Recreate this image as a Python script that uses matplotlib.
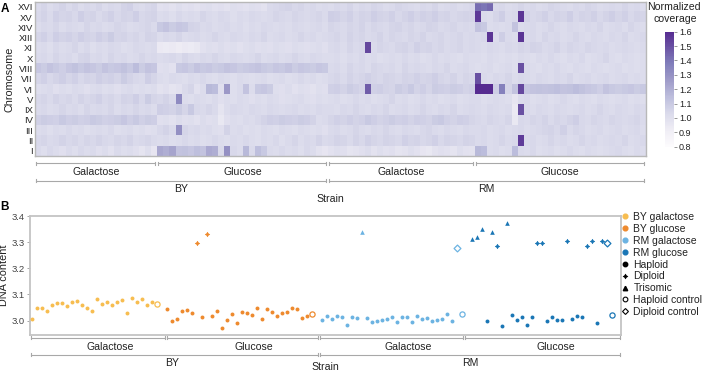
import numpy as np
import matplotlib
matplotlib.use("Agg")
import matplotlib.pyplot as plt
from matplotlib import transforms
from matplotlib.lines import Line2D
from matplotlib.colors import LinearSegmentedColormap

plt.rcParams["font.family"] = ["Liberation Sans", "DejaVu Sans"]

# ---------------- panel A data: normalized coverage, rows top -> bottom
chromosomes = ["XVI", "XV", "XIV", "XIII", "XI", "X", "VIII", "VII", "VI",
               "V", "IX", "IV", "III", "II", "I"]

by_gal_cov = [
    [1.03, 1.05, 1.02, 1.04, 1.06, 1.03, 1.05, 1.02, 1.04, 1.03, 1.05, 1.02, 1.04, 1.03, 1.06, 1.07, 1.03, 1.02, 1.04, 1.05],
    [1.04, 1.06, 1.03, 1.07, 1.05, 1.06, 1.04, 1.08, 1.05, 1.06, 1.03, 1.05, 1.07, 1.04, 1.06, 1.05, 1.08, 1.04, 1.05, 1.06],
    [1.02, 1.04, 1.03, 1.05, 1.02, 1.04, 1.03, 1.02, 1.05, 1.03, 1.04, 1.02, 1.03, 1.05, 1.04, 1.02, 1.03, 1.04, 1.05, 1.03],
    [1.05, 1.07, 1.04, 1.08, 1.06, 1.07, 1.05, 1.08, 1.06, 1.05, 1.08, 1.06, 1.09, 1.05, 1.06, 1.04, 1.05, 1.03, 1.06, 1.05],
    [1.02, 1.03, 1.01, 1.04, 1.02, 1.03, 1.05, 1.02, 1.04, 1.01, 1.03, 1.02, 1.04, 1.03, 1.01, 1.02, 1.04, 1.03, 1.02, 1.03],
    [1.03, 1.04, 1.02, 1.05, 1.03, 1.04, 1.02, 1.05, 1.06, 1.03, 1.04, 1.02, 1.05, 1.03, 1.04, 1.02, 1.03, 1.05, 1.03, 1.04],
    [1.11, 1.09, 1.12, 1.10, 1.08, 1.11, 1.13, 1.10, 1.12, 1.11, 1.09, 1.12, 1.10, 1.11, 1.13, 1.10, 1.15, 1.09, 1.12, 1.11],
    [1.05, 1.07, 1.04, 1.06, 1.08, 1.05, 1.07, 1.04, 1.06, 1.05, 1.08, 1.06, 1.07, 1.05, 1.09, 1.06, 1.04, 1.03, 1.08, 1.05],
    [1.01, 1.02, 1.03, 1.00, 1.02, 1.01, 1.03, 1.02, 1.00, 1.02, 1.03, 1.01, 1.02, 1.00, 1.02, 1.03, 1.01, 1.02, 1.01, 1.02],
    [1.04, 1.05, 1.03, 1.06, 1.04, 1.05, 1.03, 1.06, 1.04, 1.05, 1.07, 1.04, 1.05, 1.03, 1.06, 1.05, 1.08, 1.04, 1.09, 1.05],
    [1.03, 1.04, 1.02, 1.03, 1.05, 1.03, 1.04, 1.02, 1.05, 1.03, 1.04, 1.03, 1.05, 1.02, 1.04, 1.03, 1.05, 1.03, 1.04, 1.02],
    [1.07, 1.09, 1.08, 1.07, 1.10, 1.08, 1.09, 1.07, 1.08, 1.10, 1.09, 1.07, 1.08, 1.09, 1.11, 1.08, 1.10, 1.07, 1.09, 1.08],
    [1.02, 1.03, 1.01, 1.03, 1.02, 1.04, 1.02, 1.03, 1.01, 1.02, 1.03, 1.02, 1.04, 1.01, 1.02, 1.03, 1.01, 1.02, 1.00, 1.01],
    [1.04, 1.05, 1.03, 1.04, 1.06, 1.04, 1.05, 1.03, 1.05, 1.04, 1.06, 1.04, 1.03, 1.05, 1.04, 1.06, 1.03, 1.04, 1.05, 1.03],
    [1.03, 1.01, 1.04, 1.02, 1.00, 1.03, 1.01, 1.04, 1.02, 1.03, 1.00, 1.02, 0.99, 1.03, 1.01, 1.02, 1.00, 0.97, 1.01, 0.96],
]

by_glu_cov = [
    [0.99, 1.00, 0.98, 1.01, 0.99, 1.00, 0.98, 1.00, 1.01, 0.99, 1.00, 0.98, 1.01, 1.00, 0.99, 1.01, 1.00, 0.98, 1.03, 1.04, 1.05, 1.06, 1.04, 1.05, 1.03, 1.04, 1.02, 1.03],
    [1.02, 1.03, 1.01, 1.04, 1.02, 1.03, 1.02, 1.05, 1.03, 1.02, 1.04, 1.03, 1.01, 1.03, 1.02, 1.04, 1.03, 1.02, 1.03, 1.05, 1.04, 1.03, 1.05, 1.04, 1.03, 1.04, 1.05, 1.03],
    [1.10, 1.12, 1.09, 1.11, 1.10, 1.06, 1.05, 1.03, 1.04, 1.02, 1.03, 1.04, 1.02, 1.03, 1.01, 1.03, 1.02, 1.04, 1.03, 1.02, 1.03, 1.02, 1.04, 1.03, 1.02, 1.03, 1.04, 1.02],
    [1.02, 1.04, 1.03, 1.05, 1.02, 1.03, 1.04, 1.02, 1.03, 1.05, 1.03, 1.02, 1.04, 1.03, 1.02, 1.04, 1.03, 1.05, 1.02, 1.03, 1.04, 1.02, 1.03, 1.05, 1.03, 1.04, 1.02, 1.03],
    [0.94, 0.93, 0.94, 0.92, 0.94, 0.93, 0.95, 0.99, 1.01, 1.00, 1.02, 1.00, 1.01, 0.99, 1.01, 1.02, 1.00, 1.01, 1.00, 1.02, 1.01, 1.00, 1.02, 1.01, 1.00, 1.01, 1.02, 1.00],
    [1.02, 1.03, 1.04, 1.02, 1.05, 1.03, 1.02, 1.04, 1.03, 1.05, 1.03, 1.02, 1.04, 1.03, 1.02, 1.03, 1.05, 1.02, 1.03, 1.04, 1.02, 1.03, 1.05, 1.03, 1.02, 1.04, 1.03, 1.02],
    [1.00, 1.01, 0.99, 1.10, 1.11, 1.09, 1.12, 1.10, 1.11, 1.09, 1.10, 1.12, 1.11, 1.09, 1.10, 1.11, 1.12, 1.10, 1.09, 1.11, 1.10, 1.12, 1.09, 1.11, 1.10, 1.09, 1.11, 1.10],
    [1.02, 1.01, 1.03, 1.02, 1.01, 1.03, 1.02, 1.04, 1.02, 1.01, 1.03, 1.02, 1.01, 1.03, 1.02, 1.01, 1.02, 1.03, 1.01, 1.02, 1.03, 1.01, 1.02, 1.04, 1.02, 1.03, 1.01, 1.02],
    [0.98, 1.00, 0.97, 0.99, 1.03, 1.05, 0.99, 1.02, 1.16, 1.15, 1.00, 1.27, 1.01, 1.03, 1.12, 1.02, 1.10, 1.11, 1.09, 1.01, 1.00, 1.02, 0.99, 1.01, 1.00, 0.98, 1.01, 1.00],
    [1.04, 1.06, 1.03, 1.32, 1.02, 1.01, 1.03, 1.02, 1.01, 1.03, 1.00, 1.02, 1.01, 1.03, 1.02, 1.00, 1.02, 1.01, 1.03, 1.02, 1.00, 1.01, 1.02, 1.03, 1.01, 1.00, 1.02, 1.01],
    [1.08, 1.07, 1.06, 1.09, 1.05, 1.10, 1.04, 1.03, 1.05, 1.03, 0.97, 1.02, 1.04, 1.03, 1.02, 1.04, 1.03, 1.02, 1.04, 1.03, 1.02, 1.03, 1.04, 1.02, 1.03, 1.02, 1.04, 1.03],
    [1.00, 1.01, 0.99, 1.02, 1.00, 1.01, 0.99, 1.02, 1.00, 1.01, 0.95, 1.00, 1.02, 1.01, 1.03, 1.02, 1.04, 1.06, 1.08, 1.07, 1.09, 1.08, 1.07, 1.09, 1.08, 1.06, 1.02, 1.03],
    [1.04, 1.06, 1.03, 1.30, 1.05, 1.03, 1.04, 1.02, 1.03, 1.01, 1.00, 1.06, 1.02, 1.03, 1.01, 1.02, 1.01, 1.03, 1.02, 1.01, 1.03, 1.02, 1.01, 1.03, 1.02, 1.01, 1.02, 1.00],
    [1.02, 1.03, 1.01, 1.02, 1.04, 1.02, 1.03, 1.01, 1.02, 1.04, 1.02, 1.01, 1.03, 1.02, 1.04, 1.02, 1.01, 1.03, 1.02, 1.04, 1.01, 1.03, 1.05, 1.02, 1.04, 1.03, 1.06, 1.03],
    [1.22, 1.20, 1.23, 1.12, 1.13, 1.11, 1.14, 1.12, 1.21, 1.20, 1.03, 1.30, 1.04, 1.02, 1.16, 1.03, 1.14, 1.10, 1.03, 1.02, 1.04, 1.02, 1.03, 1.01, 1.04, 1.02, 0.98, 0.96],
]

rm_gal_cov = [
    [1.02, 1.04, 1.03, 1.05, 1.02, 1.04, 1.03, 1.05, 1.04, 1.02, 1.03, 1.05, 1.04, 1.03, 1.02, 1.04, 1.03, 1.05, 1.02, 1.03, 1.04, 1.02, 1.03, 1.04],
    [1.08, 1.07, 1.05, 1.07, 1.04, 1.06, 1.05, 1.08, 1.06, 1.05, 1.07, 1.04, 1.06, 1.08, 1.05, 1.07, 1.06, 1.08, 1.05, 1.06, 1.04, 1.05, 1.06, 1.05],
    [1.05, 1.04, 1.03, 1.05, 1.04, 1.06, 1.03, 1.05, 1.04, 1.03, 1.05, 1.06, 1.04, 1.05, 1.03, 1.04, 1.06, 1.05, 1.03, 1.04, 1.05, 1.03, 1.04, 1.03],
    [1.04, 1.05, 1.03, 1.06, 1.04, 1.05, 1.03, 1.04, 1.06, 1.03, 1.05, 1.04, 1.03, 1.05, 1.04, 1.06, 1.03, 1.04, 1.05, 1.03, 1.04, 1.05, 1.03, 1.04],
    [1.03, 1.04, 1.02, 1.05, 1.03, 1.04, 1.52, 1.03, 1.05, 1.04, 1.03, 1.05, 1.06, 1.04, 1.07, 1.05, 1.06, 1.04, 1.05, 1.03, 1.04, 1.05, 1.03, 1.04],
    [1.02, 1.03, 1.01, 1.03, 1.02, 1.04, 1.02, 1.03, 1.01, 1.02, 1.03, 1.02, 1.04, 1.02, 1.03, 1.01, 1.02, 1.04, 1.02, 1.03, 1.02, 1.01, 1.03, 1.02],
    [1.03, 1.04, 1.02, 1.05, 1.03, 1.04, 1.02, 1.05, 1.04, 1.03, 1.04, 1.02, 1.05, 1.03, 1.04, 1.03, 1.02, 1.04, 1.03, 1.05, 1.02, 1.03, 1.04, 1.02],
    [1.04, 1.05, 1.03, 1.06, 1.04, 1.05, 1.07, 1.05, 1.04, 1.06, 1.05, 1.04, 1.06, 1.05, 1.07, 1.05, 1.06, 1.08, 1.05, 1.04, 1.06, 1.03, 1.05, 1.04],
    [1.07, 1.08, 1.06, 1.09, 1.07, 1.05, 1.46, 1.07, 1.08, 1.06, 1.05, 1.09, 1.07, 1.10, 1.06, 1.08, 1.05, 1.09, 1.08, 1.07, 1.09, 1.08, 1.06, 1.07],
    [1.02, 1.03, 1.01, 1.02, 1.04, 1.02, 1.03, 1.01, 1.02, 1.03, 1.05, 1.02, 1.03, 1.01, 1.02, 1.04, 1.02, 1.03, 1.01, 1.02, 1.03, 1.01, 1.02, 1.03],
    [1.03, 1.02, 1.04, 1.03, 1.05, 1.03, 1.02, 1.04, 1.03, 1.05, 1.02, 1.03, 1.04, 1.02, 1.03, 1.05, 1.03, 1.02, 1.04, 1.03, 1.05, 1.02, 1.03, 1.04],
    [1.05, 1.07, 1.06, 1.08, 1.06, 1.07, 1.10, 1.08, 1.06, 1.07, 1.09, 1.07, 1.08, 1.06, 1.08, 1.07, 1.06, 1.09, 1.10, 1.07, 1.06, 1.08, 1.07, 1.05],
    [1.03, 1.04, 1.02, 1.03, 1.05, 1.03, 1.02, 1.04, 1.03, 1.05, 1.03, 1.02, 1.04, 1.03, 1.02, 1.04, 1.05, 1.03, 1.02, 1.04, 1.03, 1.02, 1.04, 1.03],
    [1.04, 1.06, 1.05, 1.03, 1.06, 1.04, 1.07, 1.05, 1.04, 1.06, 1.05, 1.04, 1.07, 1.05, 1.06, 1.04, 1.05, 1.07, 1.04, 1.06, 1.05, 1.04, 1.06, 1.05],
    [0.99, 1.01, 1.00, 0.97, 0.98, 1.00, 1.02, 0.98, 1.01, 0.99, 1.00, 0.97, 0.98, 1.01, 0.99, 0.96, 0.95, 0.98, 1.00, 0.99, 0.97, 1.01, 0.99, 0.98],
]

rm_glu_cov = [
    [1.42, 1.40, 1.43, 1.03, 1.04, 1.02, 1.03, 1.05, 1.03, 1.04, 1.02, 1.03, 1.05, 1.04, 1.03, 1.02, 1.04, 1.03, 1.05, 1.04, 1.02, 1.03, 1.04, 1.03, 1.05, 1.03, 1.04, 1.02],
    [1.56, 1.03, 1.02, 1.05, 1.08, 1.03, 1.04, 1.57, 1.06, 1.04, 1.05, 1.07, 1.04, 1.06, 1.05, 1.08, 1.04, 1.06, 1.05, 1.07, 1.04, 1.06, 1.08, 1.05, 1.07, 1.04, 1.06, 1.05],
    [1.12, 1.10, 1.02, 1.03, 1.02, 1.03, 1.12, 1.02, 1.03, 1.04, 1.02, 1.03, 1.05, 1.03, 1.02, 1.04, 1.03, 1.02, 1.04, 1.03, 1.05, 1.02, 1.03, 1.04, 1.02, 1.05, 1.03, 1.02],
    [1.03, 1.04, 1.57, 1.02, 1.08, 1.03, 1.02, 1.57, 1.03, 1.04, 1.02, 1.05, 1.03, 1.04, 1.02, 1.03, 1.05, 1.03, 1.02, 1.04, 1.03, 1.02, 1.04, 1.03, 1.05, 1.02, 1.03, 1.04],
    [1.03, 1.02, 1.04, 1.03, 1.02, 1.04, 1.03, 1.05, 1.04, 1.06, 1.05, 1.03, 1.04, 1.06, 1.03, 1.05, 1.04, 1.03, 1.05, 1.04, 1.03, 1.04, 1.02, 1.03, 1.04, 1.03, 1.02, 1.03],
    [1.02, 1.01, 1.03, 1.02, 1.01, 1.02, 1.01, 1.03, 1.02, 1.01, 1.03, 1.02, 1.04, 1.02, 1.01, 1.03, 1.02, 1.04, 1.01, 1.02, 1.03, 1.05, 1.02, 1.01, 1.03, 1.02, 1.01, 1.02],
    [1.01, 1.02, 1.03, 1.01, 1.02, 1.03, 1.01, 1.50, 1.03, 1.02, 1.01, 1.03, 1.02, 1.04, 1.02, 1.01, 1.03, 1.02, 1.01, 1.03, 1.02, 1.01, 1.02, 1.03, 1.01, 1.02, 1.01, 1.02],
    [1.50, 1.03, 1.02, 1.04, 1.03, 1.05, 1.02, 1.04, 1.03, 1.02, 1.04, 1.03, 1.02, 1.04, 1.03, 1.05, 1.02, 1.03, 1.04, 1.02, 1.03, 1.04, 1.02, 1.03, 1.04, 1.02, 1.03, 1.02],
    [1.60, 1.62, 1.61, 1.08, 1.36, 1.05, 1.12, 1.52, 1.11, 1.12, 1.13, 1.12, 1.13, 1.14, 1.12, 1.13, 1.15, 1.13, 1.11, 1.10, 1.08, 1.12, 1.10, 1.09, 1.10, 1.11, 1.09, 1.10],
    [1.03, 1.01, 1.02, 1.03, 1.02, 1.01, 0.96, 1.02, 1.03, 1.01, 1.02, 1.03, 1.01, 1.02, 1.04, 1.02, 1.01, 1.03, 1.02, 1.01, 1.03, 1.02, 1.01, 1.02, 1.03, 1.01, 1.02, 1.01],
    [1.03, 1.02, 1.04, 1.03, 1.02, 1.03, 0.94, 1.50, 1.03, 1.02, 1.04, 1.03, 1.02, 1.04, 1.03, 1.02, 1.03, 1.04, 1.02, 1.03, 1.05, 1.03, 1.02, 1.04, 1.03, 1.02, 1.04, 1.03],
    [1.04, 1.03, 1.05, 1.04, 1.03, 1.05, 0.95, 1.04, 1.03, 1.05, 1.04, 1.06, 1.03, 1.05, 1.04, 1.06, 1.08, 1.04, 1.03, 1.05, 1.04, 1.03, 1.05, 1.04, 1.03, 1.04, 1.05, 1.03],
    [1.03, 1.04, 1.02, 1.03, 1.04, 1.02, 1.03, 1.04, 1.02, 1.03, 1.04, 1.05, 1.06, 1.04, 1.07, 1.03, 1.05, 1.04, 1.02, 1.03, 1.04, 1.02, 1.03, 1.04, 1.02, 1.03, 1.04, 1.02],
    [1.03, 1.04, 1.02, 1.03, 1.05, 1.03, 1.04, 1.55, 1.03, 1.04, 1.02, 1.03, 1.05, 1.03, 1.04, 1.02, 1.03, 1.05, 1.03, 1.04, 1.02, 1.03, 1.04, 1.03, 1.05, 1.02, 1.03, 1.04],
    [1.16, 1.15, 1.02, 1.03, 1.01, 1.02, 1.15, 1.03, 1.02, 1.04, 1.01, 1.02, 1.03, 1.01, 1.02, 1.04, 1.02, 1.01, 1.03, 1.02, 1.01, 1.02, 1.03, 1.04, 1.02, 1.01, 1.03, 1.02],
]

cbar_ticks = [0.8, 0.9, 1.0, 1.1, 1.2, 1.3, 1.4, 1.5, 1.6]

# ---------------- panel B data: DNA content per sample
# kinds: h haploid, d diploid, t trisomic, hc haploid control, dc diploid control
by_gal_dna = [3.005, 3.047, 3.050, 3.037, 3.059, 3.068, 3.069, 3.056, 3.071, 3.074,
              3.058, 3.050, 3.038, 3.082, 3.064, 3.073, 3.058, 3.071, 3.080, 3.028,
              3.088, 3.072, 3.081, 3.058, 3.073, 3.064]
by_gal_kind = ["h"] * 25 + ["hc"]

by_glu_dna = [3.045, 2.999, 3.006, 3.038, 3.042, 3.028, 3.296, 3.014, 3.332, 3.019,
              3.037, 2.973, 3.003, 3.026, 2.992, 3.032, 3.030, 3.022, 3.047, 3.005,
              3.044, 3.032, 3.018, 3.030, 3.032, 3.050, 3.044, 3.010, 3.018, 3.026]
by_glu_kind = ["h"] * 6 + ["d", "h", "d"] + ["h"] * 20 + ["hc"]

rm_gal_dna = [3.004, 3.019, 3.005, 3.017, 3.015, 2.985, 3.013, 3.009, 3.338, 3.009,
              2.995, 3.000, 3.004, 3.006, 3.013, 2.995, 3.012, 3.015, 2.996, 3.017,
              3.008, 3.009, 2.999, 3.003, 3.006, 3.027, 2.997, 3.278, 3.024]
rm_gal_kind = ["h"] * 8 + ["t"] + ["h"] * 18 + ["dc", "hc"]

rm_glu_dna = [3.312, 3.319, 3.349, 2.997, 3.337, 3.287, 2.979, 3.374, 3.020, 3.003,
              3.015, 2.985, 3.015, 3.296, 3.296, 2.999, 3.015, 3.001, 3.001, 3.306,
              3.005, 3.018, 3.012, 3.285, 3.303, 2.992, 3.305, 3.295, 3.023]
rm_glu_kind = ["t", "t", "t", "h", "t", "d", "h", "t", "h", "h",
               "h", "h", "h", "d", "d", "h", "h", "h", "h", "d",
               "h", "h", "h", "d", "d", "h", "d", "dc", "hc"]

group_names = ["BY galactose", "BY glucose", "RM galactose", "RM glucose"]
group_colors = ["#f7bd50", "#ee8a2e", "#6cb3e2", "#1a76b5"]

grey = "#a8a8a8"
txt = "#222222"

fig = plt.figure(figsize=(7.05, 3.72), dpi=100)
W, H = 705.0, 372.0


def fx(px):
    return px / W


def fy(py):
    return 1 - py / H


def bracket(ax, x0, x1, ypx):
    tr = transforms.blended_transform_factory(ax.transData, fig.transFigure)
    y = fy(ypx)
    t = 1.5 / H
    ax.plot([x0, x1], [y, y], transform=tr, color=grey, lw=0.8, clip_on=False)
    for xe in (x0, x1):
        ax.plot([xe, xe], [y - t, y + t], transform=tr, color=grey, lw=0.8,
                clip_on=False)


def label(ax, x, ypx, s, size=7.6):
    tr = transforms.blended_transform_factory(ax.transData, fig.transFigure)
    ax.text(x, fy(ypx), s, transform=tr, ha="center", va="center",
            fontsize=size, color=txt)


# ---------------- panel A
cov = np.hstack([np.array(by_gal_cov), np.array(by_glu_cov),
                 np.array(rm_gal_cov), np.array(rm_glu_cov)])
cmap = LinearSegmentedColormap.from_list(
    "cov", plt.cm.Purples(np.linspace(0.0, 0.86, 256)))

axA = fig.add_axes([fx(35), fy(156), fx(645.7 - 35), (156 - 1.7) / H])
im = axA.imshow(cov, aspect="auto", cmap=cmap, vmin=0.8, vmax=1.6,
                interpolation="nearest")
axA.set_xticks([])
axA.set_yticks(range(len(chromosomes)))
axA.set_yticklabels(chromosomes, fontsize=6.8, color=txt)
axA.tick_params(axis="y", length=0, pad=1.5)
for sp in axA.spines.values():
    sp.set_color("#b8b8b8")
    sp.set_linewidth(1.0)
axA.set_ylabel("Chromosome", fontsize=7.8, color=txt, labelpad=2)

ncols = [len(by_gal_cov[0]), len(by_glu_cov[0]), len(rm_gal_cov[0]), len(rm_glu_cov[0])]
edges = np.concatenate([[0], np.cumsum(ncols)]) - 0.5
cond = ["Galactose", "Glucose", "Galactose", "Glucose"]
for i in range(4):
    a, b = edges[i] + 0.2, edges[i + 1] - 0.3
    bracket(axA, a, b, 163)
    label(axA, (a + b) / 2, 172, cond[i])
for j, strain in enumerate(["BY", "RM"]):
    a, b = edges[2 * j] + 0.2, edges[2 * j + 2] - 0.3
    bracket(axA, a, b, 180.5)
    label(axA, (a + b) / 2, 189.5, strain)
fig.text(fx(330), fy(199), "Strain", ha="center", va="center", fontsize=7.6, color=txt)

cax = fig.add_axes([fx(665), fy(146.7), fx(8.5), (146.7 - 31.7) / H])
cb = fig.colorbar(im, cax=cax, ticks=cbar_ticks)
cb.outline.set_visible(False)
cb.ax.tick_params(labelsize=6.5, length=2.5, width=0.6, color="#888888",
                  labelcolor=txt, pad=1.5)
fig.text(fx(674), fy(6.5), "Normalized", ha="center", va="center", fontsize=7.6, color=txt)
fig.text(fx(675), fy(19.5), "coverage", ha="center", va="center", fontsize=7.6, color=txt)

fig.text(fx(1), fy(8.5), "A", fontsize=8.5, fontweight="bold", va="center", ha="left")

# ---------------- panel B
axB = fig.add_axes([fx(30), fy(335), fx(620.7 - 30), (335 - 216) / H])
styles = {
    "h": dict(marker="o", s=8, filled=True, lw=0),
    "d": dict(marker=(4, 1, 0), s=11, filled=True, lw=0.4),
    "t": dict(marker="^", s=11, filled=True, lw=0),
    "hc": dict(marker="o", s=14, filled=False, lw=0.9),
    "dc": dict(marker="D", s=12, filled=False, lw=0.9),
}
groups = [(by_gal_dna, by_gal_kind), (by_glu_dna, by_glu_kind),
          (rm_gal_dna, rm_gal_kind), (rm_glu_dna, rm_glu_kind)]
start = 0
for (vals, kinds), col in zip(groups, group_colors):
    xs = start + np.arange(len(vals))
    vals = np.array(vals)
    kinds = np.array(kinds)
    for k, st in styles.items():
        m = kinds == k
        if not m.any():
            continue
        face = col if st["filled"] else "white"
        axB.scatter(xs[m], vals[m], marker=st["marker"], s=st["s"],
                    facecolors=face, edgecolors=col, linewidths=st["lw"], zorder=3)
    start += len(vals) + 1

axB.set_xlim(-0.4, 117.7)
axB.set_ylim(2.945, 3.4)
axB.set_xticks([])
axB.set_yticks([3.0, 3.1, 3.2, 3.3, 3.4])
axB.set_yticklabels(["3.0", "3.1", "3.2", "3.3", "3.4"])
axB.tick_params(axis="y", labelsize=6.8, length=2, width=0.6, color="#999999",
                labelcolor="#444444", pad=1.5)
for sp in axB.spines.values():
    sp.set_color("#c4c4c4")
    sp.set_linewidth(1.3)
axB.set_ylabel("DNA content", fontsize=7.8, color=txt, labelpad=2)

# group brackets (layout spans, data x units)
b_spans = [(-0.3, 26.6), (27.0, 57.2), (57.6, 86.1), (86.5, 117.6)]
b_labels = [15.7, 44.3, 75.3, 104.7]
for (a, b), lx, c in zip(b_spans, b_labels, cond):
    bracket(axB, a, b, 337.5)
    label(axB, lx, 346.5, c)
bracket(axB, b_spans[0][0], b_spans[1][1], 354.5)
bracket(axB, b_spans[2][0], b_spans[3][1], 354.5)
label(axB, 28.1, 363, "BY")
label(axB, 87.7, 363, "RM")
fig.text(fx(325), fy(366.5), "Strain", ha="center", va="center", fontsize=7.6, color=txt)

fig.text(fx(0), fy(207), "B", fontsize=8.5, fontweight="bold", va="center", ha="left")

handles = [Line2D([], [], ls="", marker="o", ms=3.4, mfc=c, mec=c) for c in group_colors]
handles += [
    Line2D([], [], ls="", marker="o", ms=3.2, mfc="k", mec="k"),
    Line2D([], [], ls="", marker=(4, 1, 0), ms=3.6, mfc="k", mec="k", mew=0.4),
    Line2D([], [], ls="", marker="^", ms=3.2, mfc="k", mec="k"),
    Line2D([], [], ls="", marker="o", ms=3.4, mfc="white", mec="k", mew=0.8),
    Line2D([], [], ls="", marker="D", ms=3.0, mfc="white", mec="k", mew=0.8),
]
labels = group_names + ["Haploid", "Diploid", "Trisomic", "Haploid control", "Diploid control"]
fig.legend(handles, labels, loc="upper left", bbox_to_anchor=(fx(622), fy(212)),
           frameon=False, fontsize=7.5, handlelength=0.6, handletextpad=0.5,
           labelspacing=0.18, borderpad=0, borderaxespad=0, labelcolor=txt)

fig.savefig("out.png", dpi=100)
